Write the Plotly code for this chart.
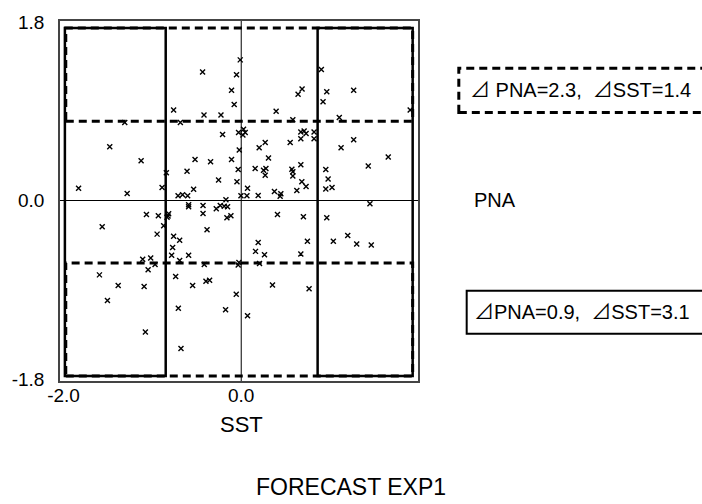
import plotly.graph_objects as go

# Scatter data (SST anomaly, PNA anomaly)
sst = [-0.011, -0.435, -0.053, -0.109, -0.079, -0.761, -0.419, -0.228, -1.311, -0.685,
       -0.210, -0.030, 0.026, 0.045, 0.019, -1.480, -1.127, -0.022, -0.520, -0.345,
       -0.109, -0.843, -0.610, -0.034, -0.255, -0.048, -1.831, -1.284, -0.891, -0.536,
       0.071, -0.711, -0.660, -0.603, -0.172, -0.003, 0.064, -0.592, -0.592, -0.430,
       -0.430, -0.281, -0.236, -0.191, -0.154, -0.161, -0.116, -1.067, -0.933, -0.817,
       -0.824, -0.835, -0.873, -1.565, -0.947, -0.385, -0.761, -0.693, -0.772, -0.783,
       -0.592, -0.693, -1.109, -1.019, -0.970, -1.048, -0.416, -0.026, -0.034, -1.596,
       -0.738, -1.385, -1.093, -0.547, -0.397, -0.356, -1.506, -0.056, -0.708, -0.176,
       0.071, -1.079, -0.678, 0.902, 0.963, 1.266, 0.921, 0.640, 0.685, 0.393,
       1.902, 1.104, 0.581, 0.671, 0.708, 0.730, 0.671, 0.820, 0.820, 1.124,
       1.266, 1.655, 1.430, 0.202, 0.270, 0.551, 0.307, 0.671, 0.157, 0.251,
       0.278, 0.270, 0.570, 0.581, 0.581, 0.682, 0.730, 0.626, 0.952, 0.978,
       0.952, 1.022, 0.191, 0.374, 0.446, 0.438, 1.449, 0.408, 0.700, 0.963,
       0.191, 0.161, 0.262, 0.745, 0.671, 1.037, 1.199, 1.300, 1.464, 0.206,
       0.352, 0.764]
pna = [1.418, 1.295, 1.269, 1.111, 0.968, 0.913, 0.863, 0.863, 0.787, 0.787,
       0.665, 0.685, 0.718, 0.685, 0.661, 0.543, 0.401, 0.510, 0.414, 0.391,
       0.414, 0.279, 0.295, 0.312, 0.206, 0.190, 0.124, 0.071, 0.131, 0.114,
       0.124, 0.048, 0.057, 0.048, 0.008, 0.048, 0.048, -0.042, -0.064, -0.051,
       -0.131, -0.084, -0.051, -0.057, -0.064, -0.173, -0.153, -0.141, -0.153, -0.134,
       -0.156, -0.170, -0.255, -0.265, -0.339, -0.295, -0.361, -0.401, -0.473, -0.552,
       -0.552, -0.606, -0.592, -0.579, -0.646, -0.698, -0.646, -0.626, -0.651, -0.750,
       -0.767, -0.856, -0.866, -0.856, -0.814, -0.804, -1.008, -0.946, -1.087, -1.101,
       -1.163, -1.325, -1.493, 1.322, 1.097, 1.111, 0.995, 1.071, 1.124, 0.899,
       0.913, 0.837, 0.814, 0.691, 0.701, 0.675, 0.622, 0.691, 0.622, 0.533,
       0.612, 0.438, 0.349, 0.533, 0.586, 0.586, 0.428, 0.361, 0.322, 0.305,
       0.322, 0.255, 0.315, 0.289, 0.246, 0.190, 0.141, 0.101, 0.312, 0.216,
       0.117, 0.131, 0.051, 0.091, 0.067, 0.042, -0.032, -0.141, -0.163, -0.173,
       -0.424, -0.513, -0.547, -0.411, -0.540, -0.411, -0.354, -0.438, -0.448, -0.636,
       -0.853, -0.889]

# Selection boxes (x0, x1, y0, y1) in data units
box_top = (-1.975, 1.93, 0.80, 1.74)
box_bottom = (-1.975, 1.93, -1.77, -0.63)
box_left = (-1.985, -0.85, -1.77, 1.74)
box_right = (0.86, 1.93, -1.77, 1.74)

x_ticks = [-2.0, 0.0, 2.0]
x_tick_text = ["-2.0", "0.0", "2.0"]
y_ticks = [-1.8, 0.0, 1.8]
y_tick_text = ["-1.8", "0.0", "1.8"]

label_dashed = "⊿ PNA=2.3,  ⊿SST=1.4"
label_solid = "⊿PNA=0.9,  ⊿SST=3.1"
x_title = "SST"
y_title = "PNA"
caption = "FORECAST EXP1"

FONT = "Liberation Sans, Arial, Helvetica, Noto Sans CJK JP, sans-serif"

fig = go.Figure()
fig.add_trace(go.Scatter(
    x=sst, y=pna, mode="markers",
    marker=dict(symbol="x-thin", size=5, color="black",
                line=dict(color="black", width=1.4)),
    showlegend=False, hoverinfo="skip"))

shapes = []
# zero lines
shapes.append(dict(type="line", xref="x", yref="y", x0=0, x1=0, y0=-1.82, y1=1.81,
                   line=dict(color="black", width=1), layer="below"))
shapes.append(dict(type="line", xref="x", yref="y", x0=-2.04, x1=1.99, y0=0, y1=0,
                   line=dict(color="black", width=1), layer="below"))
for b in (box_left, box_right):
    shapes.append(dict(type="rect", xref="x", yref="y", x0=b[0], x1=b[1], y0=b[2], y1=b[3],
                       line=dict(color="black", width=2.5)))
for b in (box_top, box_bottom):
    shapes.append(dict(type="rect", xref="x", yref="y", x0=b[0], x1=b[1], y0=b[2], y1=b[3],
                       line=dict(color="black", width=3, dash="8px,5px")))
# legend-like boxes on the right
shapes.append(dict(type="rect", xref="paper", yref="paper", x0=1.114, x1=1.80, y0=0.746, y1=0.869,
                   line=dict(color="black", width=3, dash="8px,5px")))
shapes.append(dict(type="rect", xref="paper", yref="paper", x0=1.136, x1=1.80, y0=0.131, y1=0.251,
                   line=dict(color="black", width=2)))

annotations = [
    dict(text=label_dashed, xref="paper", yref="paper", x=1.139, y=0.807,
         xanchor="left", yanchor="middle", showarrow=False,
         font=dict(family=FONT, size=20, color="black")),
    dict(text=label_solid, xref="paper", yref="paper", x=1.152, y=0.191,
         xanchor="left", yanchor="middle", showarrow=False,
         font=dict(family=FONT, size=20, color="black")),
    dict(text=y_title, xref="paper", yref="paper", x=1.150, y=0.503,
         xanchor="left", yanchor="middle", showarrow=False,
         font=dict(family=FONT, size=20, color="black")),
    dict(text=x_title, xref="paper", yref="paper", x=0.508, y=-0.12,
         xanchor="center", yanchor="middle", showarrow=False,
         font=dict(family=FONT, size=22, color="black")),
    dict(text=caption, xref="paper", yref="paper", x=0.814, y=-0.295,
         xanchor="center", yanchor="middle", showarrow=False,
         font=dict(family=FONT, size=23, color="black")),
]

fig.update_layout(
    width=702, height=504,
    margin=dict(l=59, r=284, t=15, b=123),
    paper_bgcolor="white", plot_bgcolor="white",
    shapes=shapes, annotations=annotations,
    font=dict(family=FONT, color="black"),
    xaxis=dict(range=[-2.04, 1.99], tickvals=x_ticks, ticktext=x_tick_text,
               showgrid=False, zeroline=False, showline=True, mirror=True,
               linecolor="#444", linewidth=1.5, ticks="", ticklabelstandoff=-4,
               tickfont=dict(family=FONT, size=19, color="black")),
    yaxis=dict(range=[-1.82, 1.81], tickvals=y_ticks, ticktext=y_tick_text,
               showgrid=False, zeroline=False, showline=True, mirror=True,
               linecolor="#444", linewidth=1.5, ticks="", ticklabelstandoff=10,
               tickfont=dict(family=FONT, size=19, color="black")),
)

fig.write_html("out.html", config={"displayModeBar": False},
               post_script="document.body.style.margin='0';document.body.style.padding='0';document.body.style.overflow='hidden';")
